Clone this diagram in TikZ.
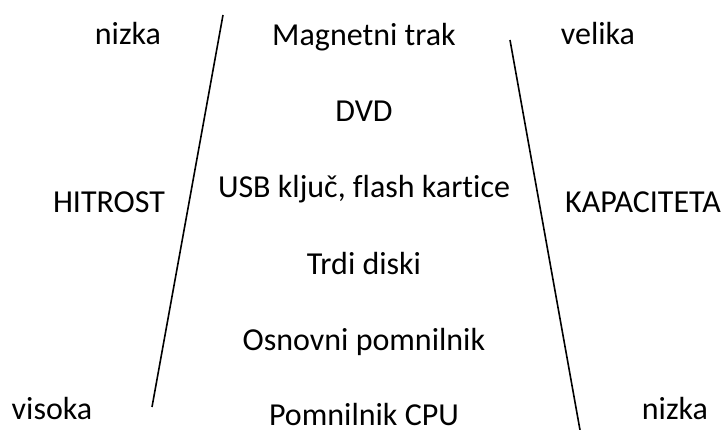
\documentclass[tikz,border=0pt]{standalone}
\usepackage{fontspec}
\setmainfont{Carlito}[Ligatures=NoCommon]
\begin{document}
\begin{tikzpicture}[x=1pt,y=-1pt,
  lbl/.style={anchor=base, inner sep=0pt, font=\fontsize{32}{38}\selectfont},
  edge/.style={line width=1.6pt, black}]
\useasboundingbox (0,0) rectangle (724,430);
% storage hierarchy, centre column
\node[lbl] (mt)  at (364,46)  {Magnetni trak};
\node[lbl] (dvd) at (364,122) {DVD};
\node[lbl] (usb) at (364,198) {USB ključ, flash kartice};
\node[lbl] (hd)  at (364,275) {Trdi diski};
\node[lbl] (ram) at (364,351) {Osnovni pomnilnik};
\node[lbl] (cpu) at (364,426) {Pomnilnik CPU};
% speed scale, left
\node[lbl] (sLow)  at (128,45)  {nizka};
\node[lbl] (speed) at (109,213) {HITROST};
\node[lbl] (sHigh) at (52,420)  {visoka};
% capacity scale, right
\node[lbl] (cHigh) at (598,45)  {velika};
\node[lbl] (cap)   at (643,213) {KAPACITETA};
\node[lbl] (cLow)  at (675,420) {nizka};
% dividing lines
\coordinate (lTop) at (223,15);
\coordinate (lBot) at (152,407);
\coordinate (rTop) at (510,40);
\coordinate (rBot) at (580,430);
\draw[edge] (lTop) -- (lBot);
\draw[edge] (rTop) -- (rBot);
\end{tikzpicture}
\end{document}
